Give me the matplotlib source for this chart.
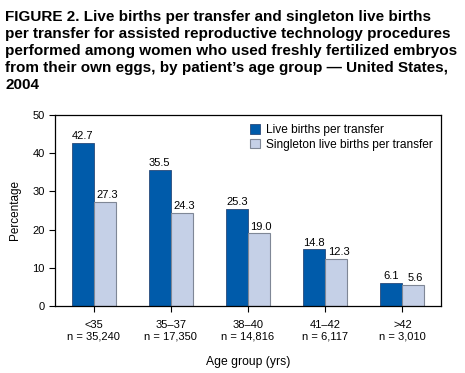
import matplotlib
matplotlib.use("Agg")
import matplotlib.pyplot as plt
import numpy as np

plt.rcParams['font.family'] = ['Liberation Sans', 'DejaVu Sans']

categories = ["<35\nn = 35,240", "35–37\nn = 17,350", "38–40\nn = 14,816", "41–42\nn = 6,117", ">42\nn = 3,010"]
live = [42.7, 35.5, 25.3, 14.8, 6.1]
singleton = [27.3, 24.3, 19.0, 12.3, 5.6]
series_names = ["Live births per transfer", "Singleton live births per transfer"]
yticks = [0, 10, 20, 30, 40, 50]

fig = plt.figure(figsize=(4.65, 3.73), dpi=100)
ax = fig.add_axes([55/465, 1-306/373, 386/465, 191/373])

x = np.arange(len(categories))
w = 0.285
dark = "#005BAA"
light = "#C5D0E7"
b1 = ax.bar(x - w/2, live, w, color=dark, edgecolor="#2a4a7a", linewidth=0.6, label=series_names[0])
b2 = ax.bar(x + w/2, singleton, w, color=light, edgecolor="#7f8796", linewidth=0.8, label=series_names[1])
for xi, v in zip(x - w/2, live):
    ax.text(xi, v + 0.5, f"{v:.1f}", ha="center", va="bottom", fontsize=8)
for xi, v in zip(x + w/2, singleton):
    ax.text(xi + 0.03, v + 0.5, f"{v:.1f}", ha="center", va="bottom", fontsize=8)

ax.set_xlim(-0.5, 4.5)
ax.set_ylim(0, 50)
ax.set_yticks(yticks)
ax.set_xticks(x)
ax.set_xticklabels(categories, fontsize=8, linespacing=1.15)
ax.tick_params(axis='y', labelsize=8, length=4, width=0.8)
ax.tick_params(axis='x', length=4, width=0.8, pad=6)
for s in ax.spines.values():
    s.set_linewidth(0.9)
ax.set_ylabel("Percentage", fontsize=8.5, labelpad=8)
ax.set_xlabel("Age group (yrs)", fontsize=8.7, labelpad=11)

leg = ax.legend(loc="upper right", bbox_to_anchor=(1.0, 0.995), frameon=False, fontsize=8.6,
                handlelength=0.85, handleheight=0.85, handletextpad=0.5, labelspacing=0.2, borderaxespad=0.3)

fig.text(5/465, 1-10/373,
         "FIGURE 2. Live births per transfer and singleton live births\n"
         "per transfer for assisted reproductive technology procedures\n"
         "performed among women who used freshly fertilized embryos\n"
         "from their own eggs, by patient’s age group — United States,\n"
         "2004",
         fontsize=11.0, fontweight="bold", va="top", ha="left", linespacing=1.28)

fig.savefig("out.png", dpi=100)
